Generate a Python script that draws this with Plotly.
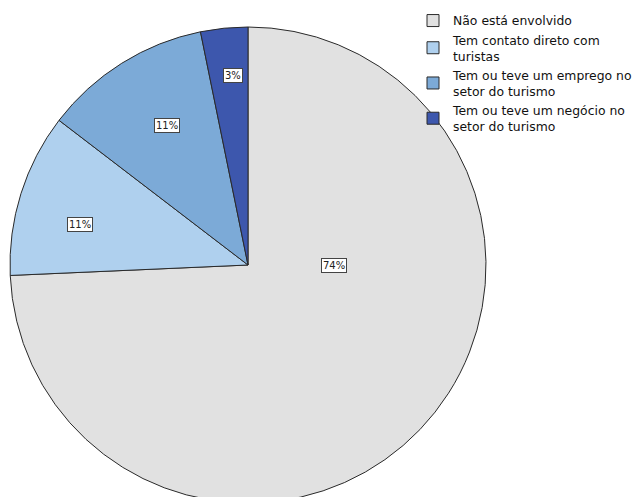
import plotly.graph_objects as go

# Involvement with tourism (percent of respondents)
categories = [
    "Não está envolvido",
    "Tem contato direto com<br>turistas",
    "Tem ou teve um emprego no<br>setor do turismo",
    "Tem ou teve um negócio no<br>setor do turismo",
]
percentages = [74.3, 11.1, 11.4, 3.2]

colors = ["#e1e1e1", "#afd0ee", "#7caad7", "#3d57ad"]

W, H = 641, 505
# pie drawing box in pixels (left, top, size)
PIE_L, PIE_T, PIE_S = 10, 27, 476
CX, CY = PIE_L + PIE_S / 2, PIE_T + PIE_S / 2

# label box anchors, pixel offsets from the pie centre
label_offsets = [(86, 0), (-168, -40), (-81, -140), (-15, -189)]

fig = go.Figure(
    go.Pie(
        labels=categories,
        values=percentages,
        sort=False,
        direction="clockwise",
        rotation=0,
        textinfo="none",
        hoverinfo="label+percent",
        marker=dict(colors=colors, line=dict(color="#2a2a2a", width=1)),
        domain=dict(x=[0, 1], y=[0, 1]),
    )
)

annotations = []
total = sum(percentages)
for v, (dx, dy) in zip(percentages, label_offsets):
    px, py = CX + dx, CY + dy
    annotations.append(
        dict(
            x=(px - PIE_L) / PIE_S,
            y=(PIE_T + PIE_S - py) / PIE_S,
            xref="paper",
            yref="paper",
            text=f"{round(v / total * 100)}%",
            showarrow=False,
            font=dict(family="DejaVu Sans", size=10, color="#222222"),
            bgcolor="white",
            bordercolor="#444444",
            borderwidth=1,
            borderpad=1,
            xanchor="center",
            yanchor="middle",
        )
    )

fig.update_layout(
    width=W,
    height=H,
    margin=dict(
        l=PIE_L, r=W - PIE_L - PIE_S, t=PIE_T, b=H - PIE_T - PIE_S, pad=0,
        autoexpand=False,
    ),
    paper_bgcolor="white",
    plot_bgcolor="white",
    showlegend=True,
    legend=dict(
        x=(413 - PIE_L) / PIE_S,
        y=(PIE_T + PIE_S - 6) / PIE_S,
        xanchor="left",
        yanchor="top",
        font=dict(family="DejaVu Sans", size=12.4, color="#111111"),
        bgcolor="rgba(0,0,0,0)",
        tracegroupgap=0,
        itemwidth=30,
    ),
    annotations=annotations,
)

fig.write_html(
    "out.html",
    post_script="document.documentElement.style.overflow='hidden';document.body.style.overflow='hidden';document.body.style.margin='0';",
)
